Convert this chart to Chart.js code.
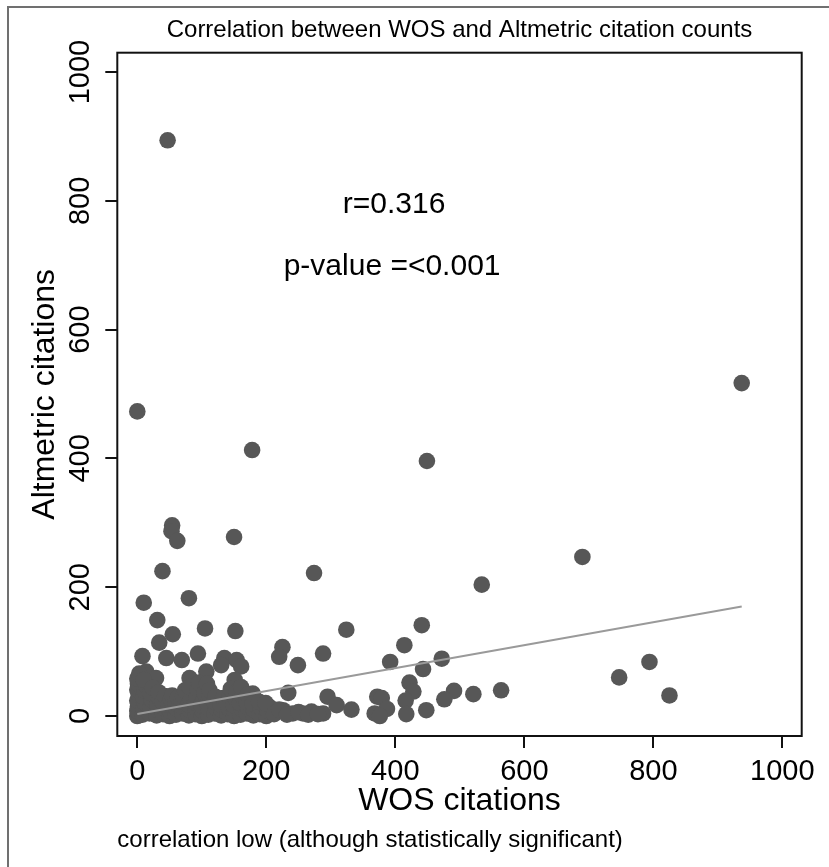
<!DOCTYPE html>
<html>
<head>
<meta charset="utf-8">
<script src="https://cdn.jsdelivr.net/npm/chart.js@4.4.0/dist/chart.umd.min.js"></script>
<style>
  html, body { margin: 0; padding: 0; background: #fff; }
</style>
</head>
<body>
<canvas id="scatter" width="829" height="867"></canvas>
<script>
// WOS vs Altmetric citation counts, one entry per article
const wosCitations = [
  47, 0, 937, 178, 449, 54, 53, 62, 150, 690, 39, 274, 534, 80, 10, 31, 441, 324, 105, 152,
  55, 34, 414, 225, 94, 288, 8, 220, 45, 135, 472, 69, 154, 392, 794, 130, 249, 161, 443, 14,
  107, 747, 81, 29, 151, 422, 564, 491, 428, 234, 179, 521, 825, 295, 372, 379, 476, 416, 309, 205,
  387, 332, 448, 226, 368, 417, 376, 257, 270, 241, 288,
  0, 0, 1, 0, 2, 0, 1, 0, 3,
  8, 10, 12, 9, 11, 14, 10,
  19, 21, 22, 20, 24,
  30, 32, 31, 34, 33,
  40, 42, 39, 43,
  50, 51, 49, 52, 54,
  60, 61, 59, 63,
  70, 72, 69, 71, 74,
  80, 81, 79, 83, 81,
  90, 91, 89, 92, 94, 96,
  100, 101, 99, 103, 104, 108,
  110, 111, 109, 113, 112,
  120, 122, 119, 121,
  130, 131, 129, 133,
  140, 142, 139, 143, 145,
  150, 151, 149, 152, 154,
  160, 162, 159, 163, 161,
  170, 172, 169, 171,
  180, 181, 179,
  190, 192, 189,
  200, 202, 199,
  212, 220, 232, 250, 265, 280
];
const altmetricCitations = [
  894, 473, 517, 413, 396, 296, 287, 272, 278, 247, 225, 222, 204, 183, 176, 149, 141, 134, 136, 132,
  127, 114, 110, 107, 97, 97, 93, 92, 90, 90, 89, 87, 87, 84, 84, 79, 79, 77, 73, 69,
  69, 60, 59, 59, 56, 52, 40, 39, 38, 36, 35, 34, 32, 30, 30, 28, 26, 24, 17, 14,
  11, 10, 9, 9, 4, 3, 0, 4, 7, 4, 4,
  0, 8, 15, 24, 33, 41, 50, 58, 66,
  2, 11, 20, 30, 39, 47, 56,
  4, 14, 26, 36, 44,
  1, 9, 18, 28, 37,
  3, 12, 22, 31,
  0, 8, 17, 26, 32,
  2, 11, 20, 29,
  4, 13, 22, 31, 40,
  1, 9, 18, 27, 45,
  3, 12, 21, 30, 41, 52,
  0, 8, 17, 26, 36, 50,
  2, 11, 20, 30, 40,
  4, 13, 22, 30,
  1, 9, 18, 28,
  3, 12, 21, 30, 42,
  0, 8, 17, 28, 38,
  2, 11, 20, 31, 45,
  4, 13, 22, 33,
  1, 9, 19,
  3, 12, 22,
  0, 8, 20,
  3, 10, 2, 6, 2, 3
];
// fitted line ends
const fitX = [0, 937];
const fitY = [3, 170];

const xTicks = [0, 200, 400, 600, 800, 1000];
const yTicks = [0, 200, 400, 600, 800, 1000];
const statText = ["r=0.316", "p-value =<0.001"];

(function () {
  const FONT = "'Liberation Sans', Arial, Helvetica, sans-serif";
  Chart.defaults.font.family = FONT;
  Chart.defaults.color = "#000";

  const points = wosCitations.map((x, i) => ({ x: x, y: altmetricCitations[i] }));
  const fit = fitX.map((x, i) => ({ x: x, y: fitY[i] }));

  // outer frame, plot box and the r / p-value notes
  const decor = {
    id: "decor",
    beforeDraw(chart) {
      const c = chart.ctx;
      c.save();
      c.strokeStyle = "#707070";
      c.lineWidth = 2;
      c.beginPath();
      c.moveTo(8, 900);
      c.lineTo(8, 7);
      c.lineTo(900, 7);
      c.stroke();
      c.restore();
    },
    afterDraw(chart) {
      const c = chart.ctx;
      const a = chart.chartArea;
      const sx = chart.scales.x, sy = chart.scales.y;
      c.save();
      c.strokeStyle = "#111";
      c.lineWidth = 2;
      c.strokeRect(a.left, a.top, a.right - a.left, a.bottom - a.top);
      c.fillStyle = "#000";
      c.font = "30px " + FONT;
      c.textAlign = "center";
      c.textBaseline = "middle";
      c.fillText(statText[0], sx.getPixelForValue(398), sy.getPixelForValue(794));
      c.fillText(statText[1], sx.getPixelForValue(395), sy.getPixelForValue(697));
      c.restore();
    }
  };

  const tickGrid = {
    display: true, drawOnChartArea: false, drawTicks: true,
    tickLength: 12, color: "#111", lineWidth: 2
  };

  new Chart(document.getElementById("scatter"), {
    type: "scatter",
    data: {
      datasets: [
        {
          type: "line",
          data: fit,
          borderColor: "#9a9a9a",
          borderWidth: 2,
          pointRadius: 0,
          order: 0
        },
        {
          data: points,
          backgroundColor: "#575757",
          borderWidth: 0,
          pointRadius: 8.3,
          pointHoverRadius: 8.3,
          order: 1
        }
      ]
    },
    options: {
      responsive: false,
      animation: false,
      devicePixelRatio: 1,
      layout: { padding: { left: 25.8, top: 8, right: 27.3, bottom: 12.6 } },
      plugins: {
        legend: { display: false },
        tooltip: { enabled: false },
        title: {
          display: true,
          text: "Correlation between WOS and Altmetric citation counts",
          fullSize: false,
          font: { size: 24, weight: "normal" },
          color: "#000",
          padding: { top: 7.6, bottom: 8.3 }
        },
        subtitle: {
          display: true,
          text: "correlation low (although statistically significant)",
          position: "bottom",
          align: "start",
          fullSize: false,
          font: { size: 24, weight: "normal" },
          color: "#000",
          padding: { top: 5, bottom: 0 }
        }
      },
      scales: {
        x: {
          type: "linear",
          min: -31, max: 1030,
          afterBuildTicks: (s) => { s.ticks = xTicks.map((v) => ({ value: v })); },
          afterFit: (s) => { s.height = 84.6; },
          grid: tickGrid,
          border: { display: false },
          ticks: {
            font: { size: 29 }, padding: 7, color: "#000",
            maxRotation: 0, autoSkip: false,
            callback: (v) => String(v)
          },
          title: {
            display: true, text: "WOS citations",
            font: { size: 32 }, color: "#000", padding: { top: 0, bottom: 0 }
          }
        },
        y: {
          type: "linear",
          min: -31, max: 1030,
          afterBuildTicks: (s) => { s.ticks = yTicks.map((v) => ({ value: v })); },
          afterFit: (s) => { s.width = 91.5; },
          grid: tickGrid,
          border: { display: false },
          ticks: {
            font: { size: 29 }, padding: -7.5, color: "#000",
            minRotation: 90, maxRotation: 90, crossAlign: "center", autoSkip: false,
            callback: (v) => String(v)
          },
          title: {
            display: true, text: "Altmetric citations",
            font: { size: 32 }, color: "#000", padding: { top: 0, bottom: 0 }
          }
        }
      }
    },
    plugins: [decor]
  });
})();
</script>
</body>
</html>
